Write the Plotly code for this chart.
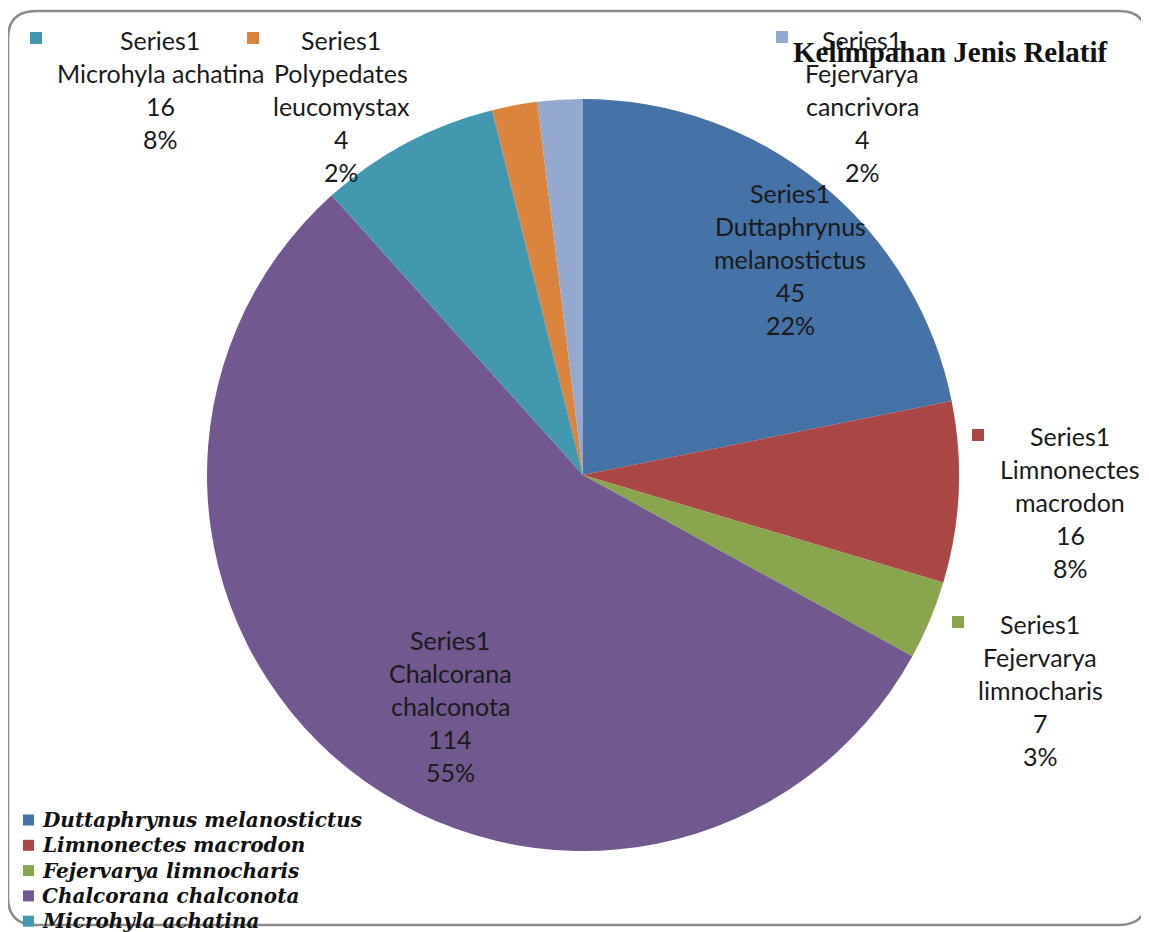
import plotly.graph_objects as go

W, H = 1149, 932
OFF = 8  # default page body margin in the written html

species = ["Duttaphrynus melanostictus", "Limnonectes macrodon", "Fejervarya limnocharis",
           "Chalcorana chalconota", "Microhyla achatina", "Polypedates leucomystax",
           "Fejervarya cancrivora"]
counts = [45, 16, 7, 114, 16, 4, 4]
series_name = "Series1"
colors = ["#4572A7", "#AA4643", "#89A54E", "#71588F", "#4198AF", "#DB843D", "#93A9CF"]
title_text = "Kelimpahan Jenis Relatif"

# label line-breaks as in the original (per slice)
label_lines = [
    ["Duttaphrynus", "melanostictus"],
    ["Limnonectes", "macrodon"],
    ["Fejervarya", "limnocharis"],
    ["Chalcorana", "chalconota"],
    ["Microhyla achatina"],
    ["Polypedates", "leucomystax"],
    ["Fejervarya", "cancrivora"],
]
# label anchor (center x, first line y) in pixels, and key-square position (None = no key)
label_pos = [(790, 193), (1070, 436), (1040, 624), (450, 640), (160, 40), (341, 40), (862, 40)]
key_pos = [None, (978, 435), (958, 622), None, (36, 38), (253, 38), (782, 37)]


def px(x):
    return (x - OFF) / W


def py(y):
    return 1 - (y - OFF) / H


total = sum(counts)
cx, cy, r = 583, 475, 376

fig = go.Figure(go.Pie(
    labels=species, values=counts, sort=False, direction="clockwise", rotation=0,
    marker=dict(colors=colors, line=dict(width=0)),
    textinfo="none", hoverinfo="label+value+percent", showlegend=False,
    domain=dict(x=[px(cx - r), px(cx + r)], y=[py(cy + r), py(cy - r)]),
))

annotations = []
shapes = []
LS = 33
lab_font = dict(family="Lato, Open Sans, sans-serif", size=25, color="#1a1a1a")
for i, name in enumerate(species):
    lines = [series_name] + label_lines[i] + [str(counts[i]), f"{round(100 * counts[i] / total)}%"]
    x0, y0 = label_pos[i]
    for k, t in enumerate(lines):
        annotations.append(dict(x=px(x0), y=py(y0 + k * LS), xref="paper", yref="paper",
                                text=t, showarrow=False, xanchor="center", yanchor="middle",
                                font=lab_font))
    if key_pos[i] is not None:
        kx, ky = key_pos[i]
        shapes.append(dict(type="rect", xref="paper", yref="paper",
                           x0=px(kx - 6), x1=px(kx + 6), y0=py(ky + 6), y1=py(ky - 6),
                           fillcolor=colors[i], line=dict(width=0)))

# title
annotations.append(dict(x=px(950), y=py(52), xref="paper", yref="paper", text=f"<b>{title_text}</b>",
                        showarrow=False, xanchor="center", yanchor="middle",
                        font=dict(family="Liberation Serif, Times New Roman, serif", size=29, color="#111111")))

# legend (bottom-left, clipped by page)
leg_y0, leg_dy = 820, 25.3
for i, name in enumerate(species):
    yy = leg_y0 + i * leg_dy
    shapes.append(dict(type="rect", xref="paper", yref="paper",
                       x0=px(23), x1=px(34), y0=py(yy + 5.5), y1=py(yy - 5.5),
                       fillcolor=colors[i], line=dict(width=0)))
    annotations.append(dict(x=px(40), y=py(yy), xref="paper", yref="paper",
                            text=f"<b><i>{name}</i></b>", showarrow=False, xanchor="left", yanchor="middle",
                            font=dict(family="DejaVu Serif, serif", size=20, color="#111111")))

# rounded border
L, T, R, B, rr = 8, 11, 1147, 925, 28
rx, ry = rr / W, rr / H
path = (f"M {px(L)},{py(T) - ry} "
        f"Q {px(L)},{py(T)} {px(L) + rx},{py(T)} "
        f"L {px(R) - rx},{py(T)} "
        f"Q {px(R)},{py(T)} {px(R)},{py(T) - ry} "
        f"L {px(R)},{py(B) + ry} "
        f"Q {px(R)},{py(B)} {px(R) - rx},{py(B)} "
        f"L {px(L) + rx},{py(B)} "
        f"Q {px(L)},{py(B)} {px(L)},{py(B) + ry} Z")
shapes.insert(0, dict(type="path", xref="paper", yref="paper", path=path,
                      line=dict(color="#8c8c8c", width=2.5), fillcolor="rgba(0,0,0,0)", layer="below"))

fig.update_layout(width=W, height=H, margin=dict(l=0, r=0, t=0, b=0),
                  paper_bgcolor="white", plot_bgcolor="white",
                  annotations=annotations, shapes=shapes)
fig.write_html("out.html")
